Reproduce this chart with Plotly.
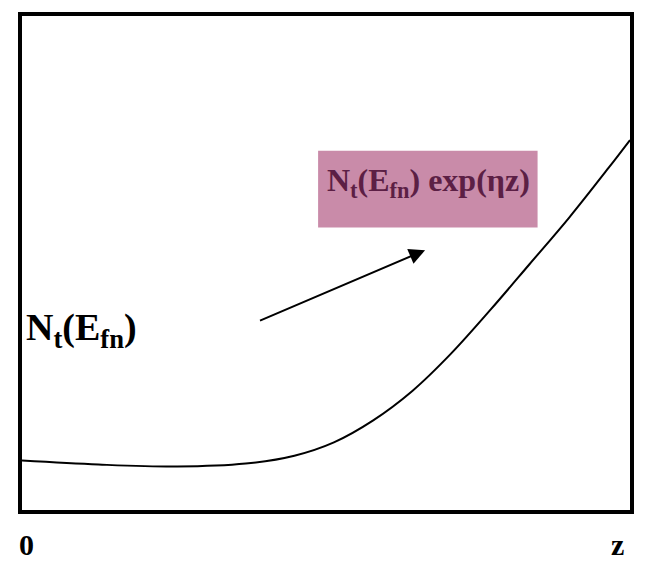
import plotly.graph_objects as go

# curve samples (z normalized 0..1, N normalized 0..1)
z_vals = [0.0, 0.126, 0.255, 0.368, 0.448, 0.513, 0.577, 0.642, 0.706, 0.771, 0.835, 0.900, 0.965, 1.0]
n_vals = [0.100, 0.092, 0.088, 0.094, 0.110, 0.137, 0.181, 0.241, 0.317, 0.406, 0.498, 0.592, 0.693, 0.749]

axis_labels = ["0", "z"]
label_left = "N<sub>t</sub>(E<sub>fn</sub>)"
label_box = "N<sub>t</sub>(E<sub>fn</sub>) exp(ηz)"

FONT = "Liberation Serif, Times New Roman, serif"

fig = go.Figure()
fig.add_trace(go.Scatter(x=z_vals, y=n_vals, mode="lines",
                         line=dict(color="black", width=2, shape="spline", smoothing=1.0),
                         hoverinfo="skip", showlegend=False))

# pink box
fig.add_shape(type="rect", xref="x", yref="y", x0=0.487, x1=0.848, y0=0.572, y1=0.727,
              fillcolor="#c98ba9", line=dict(width=0), layer="below")

fig.add_annotation(x=0.668, y=0.662, xref="x", yref="y", text="<b>" + label_box + "</b>",
                   showarrow=False, font=dict(family=FONT, size=32, color="#5c1f45"),
                   xanchor="center", yanchor="middle")

fig.add_annotation(x=0.003, y=0.365, xref="x", yref="y", text="<b>" + label_left + "</b>",
                   showarrow=False, font=dict(family=FONT, size=38, color="black"),
                   xanchor="left", yanchor="middle")

# arrow
fig.add_annotation(x=0.663, y=0.526, ax=0.389, ay=0.382, xref="x", yref="y", axref="x", ayref="y",
                   text="", showarrow=True, arrowhead=2, arrowsize=1.6, arrowwidth=2, arrowcolor="black")

# axis end labels
fig.add_annotation(x=0.008, y=-0.070, xref="x", yref="paper", text="<b>" + axis_labels[0] + "</b>",
                   showarrow=False, font=dict(family=FONT, size=30, color="black"),
                   xanchor="center", yanchor="middle")
fig.add_annotation(x=0.980, y=-0.070, xref="x", yref="paper", text="<b>" + axis_labels[1] + "</b>",
                   showarrow=False, font=dict(family=FONT, size=30, color="black"),
                   xanchor="center", yanchor="middle")

fig.update_xaxes(range=[0, 1], showgrid=False, zeroline=False, showticklabels=False, ticks="",
                 showline=True, linewidth=4, linecolor="black", mirror=True)
fig.update_yaxes(range=[0, 1], showgrid=False, zeroline=False, showticklabels=False, ticks="",
                 showline=True, linewidth=4, linecolor="black", mirror=True)

fig.update_layout(width=630, height=560, margin=dict(l=14, r=4, t=4, b=58),
                  paper_bgcolor="white", plot_bgcolor="white", showlegend=False)

fig.write_html("out.html")
